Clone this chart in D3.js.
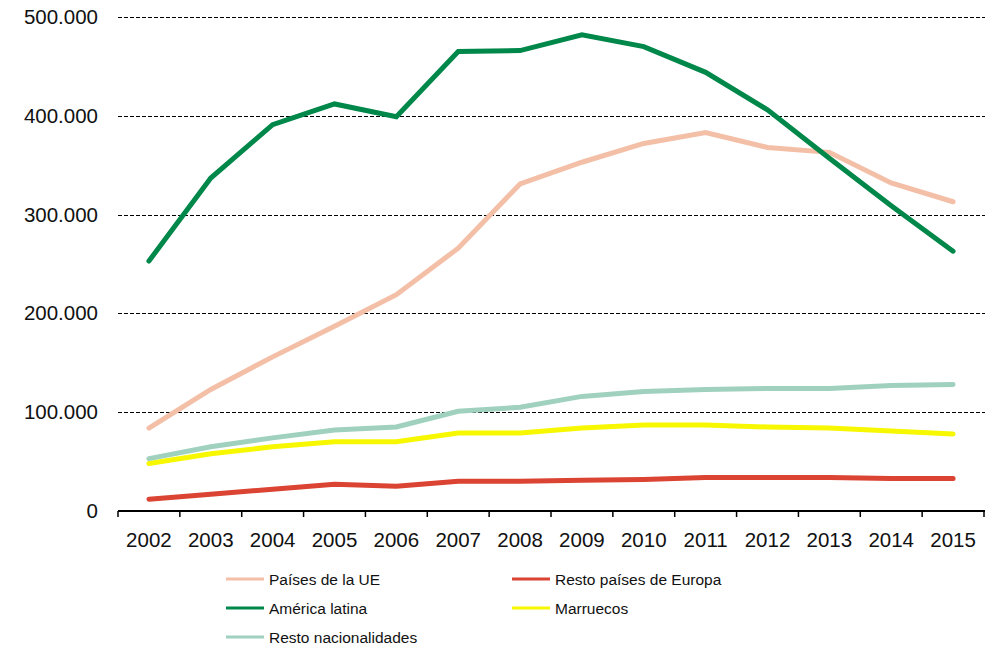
<!DOCTYPE html>
<html>
<head>
<meta charset="utf-8">
<script src="https://cdn.jsdelivr.net/npm/d3@7"></script>
<style>
  body { margin: 0; background: #fff; }
  svg { font-family: "Liberation Sans", Arial, sans-serif; }
</style>
</head>
<body>
<svg width="994" height="648"></svg>
<script>
var years = ['2002', '2003', '2004', '2005', '2006', '2007', '2008', '2009', '2010', '2011', '2012', '2013', '2014', '2015'];
var yTicks = [0, 100000, 200000, 300000, 400000, 500000];

// values in thousands of people
var paisesUE = [84, 123, 156, 187, 219, 266, 331, 353, 372, 383, 368, 363, 332, 313];
var restoEuropa = [12, 17, 22, 27, 25, 30, 30, 31, 32, 34, 34, 34, 33, 33];
var americaLatina = [253, 337, 391, 412, 399, 465, 466, 482, 470, 444, 406, 357, 309, 263];
var marruecos = [48, 58, 65, 70, 70, 79, 79, 84, 87, 87, 85, 84, 81, 78];
var restoNac = [53, 65, 74, 82, 85, 101, 105, 116, 121, 123, 124, 124, 127, 128];

var seriesNames = ['Países de la UE', 'Resto países de Europa', 'América latina', 'Marruecos', 'Resto nacionalidades'];
var seriesColors = ['#F3BFA7', '#DB4332', '#00874A', '#F7F700', '#A0D1BF'];
var seriesValues = [paisesUE, restoEuropa, americaLatina, marruecos, restoNac];

var series = seriesNames.map((name, i) => ({
    name: name,
    color: seriesColors[i],
    values: seriesValues[i].map(v => v * 1000)
}));

var svg = d3.select('svg');
var plotLeft = 118, plotRight = 984, plotTop = 17, plotBottom = 511;

var x = d3.scaleBand()
    .domain(years)
    .range([plotLeft, plotRight]);

var y = d3.scaleLinear()
    .domain([0, 500000])
    .range([plotBottom, plotTop]);

var fmt = d => d === 0 ? '0' : d3.format(',')(d).replace(/,/g, '.');

// gridlines
svg.append('g')
    .selectAll('line')
    .data(yTicks.filter(d => d > 0))
    .enter()
    .append('line')
    .attr('x1', plotLeft)
    .attr('x2', plotRight + 1)
    .attr('y1', d => Math.round(y(d)) + 0.5)
    .attr('y2', d => Math.round(y(d)) + 0.5)
    .attr('stroke', '#000')
    .attr('stroke-width', 1)
    .attr('stroke-dasharray', '4,2');

// y labels
svg.append('g')
    .selectAll('text')
    .data(yTicks)
    .enter()
    .append('text')
    .attr('x', 98)
    .attr('y', d => y(d) + 7)
    .attr('text-anchor', 'end')
    .attr('font-size', 20.5)
    .attr('fill', '#111')
    .text(fmt);

// x axis
var xAxis = svg.append('g');
xAxis.append('line')
    .attr('x1', plotLeft)
    .attr('x2', plotRight + 1)
    .attr('y1', plotBottom)
    .attr('y2', plotBottom)
    .attr('stroke', '#000')
    .attr('stroke-width', 2);

var bounds = years.map(d => x(d)).concat([x(years[years.length - 1]) + x.bandwidth()]);
xAxis.selectAll('.tick')
    .data(bounds)
    .enter()
    .append('line')
    .attr('x1', d => d)
    .attr('x2', d => d)
    .attr('y1', plotBottom)
    .attr('y2', plotBottom + 6)
    .attr('stroke', '#000')
    .attr('stroke-width', 1.5);

xAxis.selectAll('text')
    .data(years)
    .enter()
    .append('text')
    .attr('x', d => x(d) + x.bandwidth() / 2)
    .attr('y', 547)
    .attr('text-anchor', 'middle')
    .attr('font-size', 20.5)
    .attr('fill', '#111')
    .text(d => d);

// lines
var line = d3.line()
    .x((d, i) => x(years[i]) + x.bandwidth() / 2)
    .y(d => y(d));

svg.append('g')
    .selectAll('path')
    .data(series)
    .enter()
    .append('path')
    .attr('d', d => line(d.values))
    .attr('fill', 'none')
    .attr('stroke', d => d.color)
    .attr('stroke-width', 5)
    .attr('stroke-linejoin', 'miter')
    .attr('stroke-linecap', 'round');

// legend
var legendPos = [[226, 579], [512, 579], [226, 608], [512, 608], [226, 637]];
var legend = svg.append('g')
    .selectAll('g')
    .data(series)
    .enter()
    .append('g')
    .attr('transform', (d, i) => 'translate(' + legendPos[i][0] + ',' + legendPos[i][1] + ')');

legend.append('line')
    .attr('x1', 0)
    .attr('x2', 38)
    .attr('stroke', d => d.color)
    .attr('stroke-width', 3);

legend.append('text')
    .attr('x', 43)
    .attr('y', 5.5)
    .attr('font-size', 15.5)
    .attr('fill', '#111')
    .text(d => d.name);
</script>
</body>
</html>
